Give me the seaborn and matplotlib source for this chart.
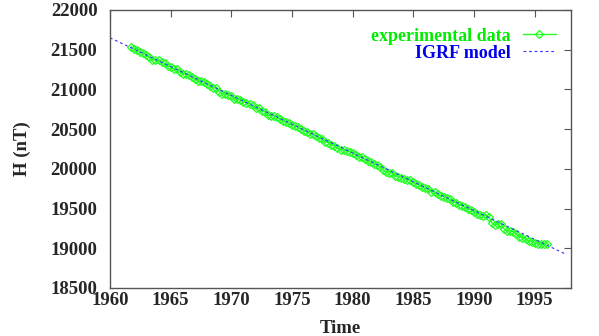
import numpy as np
import pandas as pd
import matplotlib
matplotlib.use("Agg")
import matplotlib.pyplot as plt
import seaborn as sns

# ---- data ----
exp_start = 1961.75
exp_step = 0.25
exp_H = [
    21540,
    21513, 21502, 21474, 21461,
    21433, 21404, 21371, 21373,
    21370, 21342, 21329, 21296,
    21283, 21254, 21251, 21223,
    21200, 21192, 21184, 21161,
    21133, 21104, 21101, 21093,
    21070, 21042, 21019, 21021,
    20973, 20944, 20941, 20933,
    20920, 20882, 20874, 20871,
    20848, 20824, 20821, 20798,
    20770, 20762, 20734, 20721,
    20678, 20669, 20671, 20658,
    20630, 20607, 20584, 20576,
    20553, 20539, 20526, 20503,
    20480, 20467, 20439, 20436,
    20413, 20384, 20371, 20343,
    20330, 20302, 20289, 20261,
    20243, 20234, 20226, 20218,
    20205, 20177, 20149, 20146,
    20118, 20094, 20086, 20063,
    20050, 20022, 19989, 19956,
    19953, 19949, 19911, 19903,
    19880, 19872, 19864, 19856,
    19833, 19809, 19796, 19768,
    19755, 19742, 19714, 19706,
    19683, 19659, 19651, 19628,
    19615, 19587, 19574, 19546,
    19538, 19514, 19491, 19488,
    19460, 19437, 19414, 19406,
    19418, 19394, 19316, 19293,
    19310, 19307, 19244, 19216,
    19218, 19209, 19181, 19148,
    19135, 19122, 19094, 19081,
    19068, 19054, 19051, 19048,
    19055,
]
exp_time = [exp_start + i * exp_step for i in range(len(exp_H))]

igrf_time = [1960, 1965, 1970, 1975, 1980, 1985, 1990, 1995, 1997.5]
igrf_H = [21650, 21288, 20925, 20563, 20200, 19838, 19475, 19113, 18931]

x_ticks = [1960, 1965, 1970, 1975, 1980, 1985, 1990, 1995]
y_ticks = [18500, 19000, 19500, 20000, 20500, 21000, 21500, 22000]

df_exp = pd.DataFrame({"Time": exp_time, "H": exp_H})
df_igrf = pd.DataFrame({"Time": igrf_time, "H": igrf_H})

# ---- style ----
sns.set_style("white")
plt.rcParams["font.family"] = ["Liberation Serif", "DejaVu Serif"]
plt.rcParams["font.weight"] = "bold"

fig = plt.figure(figsize=(5.99, 3.36), dpi=100)
ax = fig.add_axes([110 / 599, 1 - 288 / 336, (571 - 110) / 599, (288 - 10) / 336])

green = "#22ff22"
blue = "#3333ff"

sns.lineplot(data=df_exp, x="Time", y="H", ax=ax, color=green, lw=1.0,
             marker="D", markersize=4.3, markerfacecolor="none",
             markeredgecolor=green, markeredgewidth=0.9,
             label="experimental data", estimator=None, sort=False)
sns.lineplot(data=df_igrf, x="Time", y="H", ax=ax, color=blue, lw=0.8,
             linestyle=(0, (2.5, 2.5)), label="IGRF model",
             estimator=None, sort=False)

fs = 13.5
ax.set_xlim(1960, 1998)
ax.set_ylim(18500, 22000)
ax.set_xticks(x_ticks)
ax.set_yticks(y_ticks)
ax.set_xticklabels([str(t) for t in x_ticks], fontsize=fs, fontweight="bold")
ax.set_yticklabels([str(t) for t in y_ticks], fontsize=fs, fontweight="bold")
ax.tick_params(direction="in", length=5, width=0.8, color="#555555",
               top=True, right=True)
ax.tick_params(axis="y", pad=9)
ax.tick_params(axis="x", pad=3)
for s in ax.spines.values():
    s.set_visible(True)
    s.set_color("#555555")
    s.set_linewidth(1.0)

ax.set_xlabel("Time", fontsize=fs, fontweight="bold", labelpad=8)
ax.set_ylabel("H (nT)", fontsize=fs, fontweight="bold", labelpad=14)

leg = ax.legend(loc="upper right", bbox_to_anchor=(0.99, 0.975), frameon=False,
                markerfirst=False, handlelength=1.8, handletextpad=0.7,
                labelspacing=0.0, borderaxespad=0.2,
                prop={"family": "Liberation Serif", "weight": "bold", "size": 13})
for txt, c in zip(leg.get_texts(), ["#00ee00", "#0000ee"]):
    txt.set_color(c)

fig.savefig("out.png", dpi=100)
